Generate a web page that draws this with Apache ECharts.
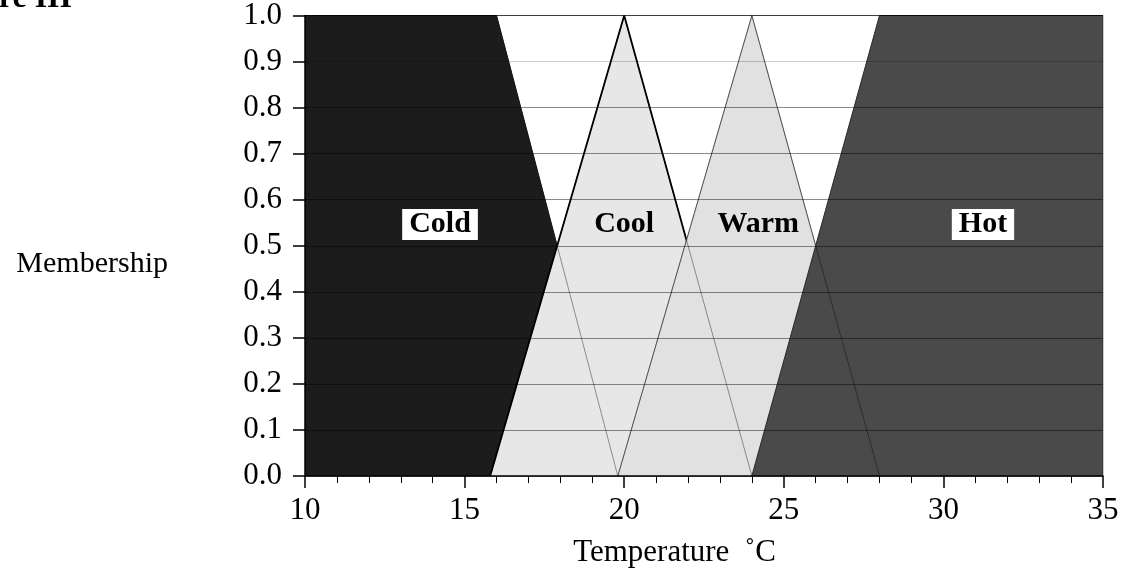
<!DOCTYPE html>
<html>
<head>
<meta charset="utf-8">
<script src="https://cdn.jsdelivr.net/npm/echarts@6/dist/echarts.min.js"></script>
<style>
html,body{margin:0;padding:0;background:#fff;}
#chart{width:1130px;height:573px;}
</style>
</head>
<body>
<div id="chart"></div>
<script>
// Membership functions (temperature, membership)
const coldX = [10, 16, 19.8];
const coldY = [1, 1, 0];
const coolX = [15.8, 20, 24];
const coolY = [0, 1, 0];
const warmX = [19.8, 24, 28];
const warmY = [0, 1, 0];
const hotX = [24, 28, 35];
const hotY = [0, 1, 1];
// Set labels
const setNames = ['Cold', 'Cool', 'Warm', 'Hot'];
const setLabelX = [14.23, 20.0, 24.2, 31.24];
const setLabelY = [0.546, 0.546, 0.546, 0.546];
const setLabelBoxed = [true, false, false, true];
// Axis ticks
const xTicks = [10, 15, 20, 25, 30, 35];
const yTicks = [0.0, 0.1, 0.2, 0.3, 0.4, 0.5, 0.6, 0.7, 0.8, 0.9, 1.0];

const pts = (xs, ys) => xs.map((x, i) => [x, ys[i]]);
const serif = 'Liberation Serif';

const chart = echarts.init(document.getElementById('chart'), null, {renderer: 'canvas'});

function fill(name, xs, ys, color, lineColor, lineWidth, z) {
  return {
    type: 'line', name: name, data: pts(xs, ys), z: z,
    showSymbol: false, symbol: 'none', silent: true,
    lineStyle: {color: lineColor, width: lineWidth},
    areaStyle: {color: color, opacity: 1},
    animation: false
  };
}
function outline(xs, ys, closeRight) {
  const d = pts(xs, ys);
  if (closeRight) d.push([xs[xs.length - 1], 0]);
  return {
    type: 'line', data: d, z: 6, showSymbol: false, symbol: 'none', silent: true,
    lineStyle: {color: 'rgba(0,0,0,0.4)', width: 1},
    animation: false
  };
}

const labelData = setNames.map((n, i) => ({
  value: [setLabelX[i], setLabelY[i]],
  name: n,
  label: setLabelBoxed[i]
    ? {backgroundColor: '#ffffff', padding: [1, 7, 0, 7]}
    : {backgroundColor: 'transparent', padding: [1, 7, 0, 7]}
}));

const option = {
  animation: false,
  backgroundColor: '#ffffff',
  grid: {left: 305, right: 27, top: 11.5, bottom: 96.5, containLabel: false},
  xAxis: {
    type: 'value', min: 10, max: 35, interval: 5, z: 5,
    name: 'Temperature  \u02DAC', nameLocation: 'middle', nameGap: 61,
    nameTextStyle: {fontFamily: serif, fontSize: 31, color: '#000', padding: [0, 59, 0, 0]},
    axisLine: {show: true, onZero: false, lineStyle: {color: '#000', width: 1.5}},
    axisTick: {show: true, length: 12, lineStyle: {color: '#000', width: 1.5}},
    minorTick: {show: true, splitNumber: 5, length: 7, lineStyle: {color: '#000', width: 1}},
    axisLabel: {fontFamily: serif, fontSize: 31, color: '#000', margin: 19,
      formatter: v => xTicks.includes(v) ? String(v) : ''},
    splitLine: {show: false}
  },
  yAxis: {
    type: 'value', min: 0, max: 1, interval: 0.1, z: 5,
    axisLine: {show: true, onZero: false, lineStyle: {color: '#000', width: 1.5}},
    axisTick: {show: true, length: 12, lineStyle: {color: '#000', width: 1.5}},
    axisLabel: {fontFamily: serif, fontSize: 31, color: '#000', margin: 23, padding: [8, 0, 0, 0],
      formatter: v => yTicks.find(t => Math.abs(t - v) < 1e-6).toFixed(1)},
    splitLine: {show: true, lineStyle: {width: 1,
      color: ['rgba(0,0,0,0.45)', 'rgba(0,0,0,0.45)', 'rgba(0,0,0,0.45)', 'rgba(0,0,0,0.45)',
              'rgba(0,0,0,0.45)', 'rgba(0,0,0,0.45)', 'rgba(0,0,0,0.45)', 'rgba(0,0,0,0.45)',
              'rgba(0,0,0,0.45)', 'rgba(0,0,0,0.2)', 'rgba(0,0,0,0.75)']}}
  },
  graphic: [{
    type: 'text', x: 72, y: -1, z: 10,
    style: {text: 'Figure III', font: 'bold 32px "Liberation Serif"', fill: '#000',
      textAlign: 'right', textVerticalAlign: 'middle'}
  }, {
    type: 'text', x: 168, y: 264, z: 10,
    style: {text: 'Membership', font: '30px "Liberation Serif"', fill: '#000',
      textAlign: 'right', textVerticalAlign: 'middle'}
  }],
  series: [
    fill('Cold', coldX, coldY, '#1c1c1c', '#1c1c1c', 1, 1),
    fill('Cool', coolX, coolY, '#e7e7e7', '#000000', 1.8, 2),
    fill('Warm', warmX, warmY, '#e1e1e1', '#888888', 1, 3),
    fill('Hot', hotX, hotY, '#4a4a4a', '#4a4a4a', 1, 4),
    outline(coldX, coldY, false),
    outline(coolX, coolY, false),
    outline(warmX, warmY, false),
    outline(hotX, hotY, true),
    {
      type: 'scatter', z: 7, symbolSize: 0, silent: true, animation: false,
      itemStyle: {opacity: 1},
      data: labelData,
      label: {show: true, position: 'inside', formatter: p => p.name, opacity: 1,
        fontFamily: serif, fontWeight: 'bold', fontSize: 30, color: '#000', lineHeight: 30}
    }
  ]
};
chart.setOption(option);
</script>
</body>
</html>
